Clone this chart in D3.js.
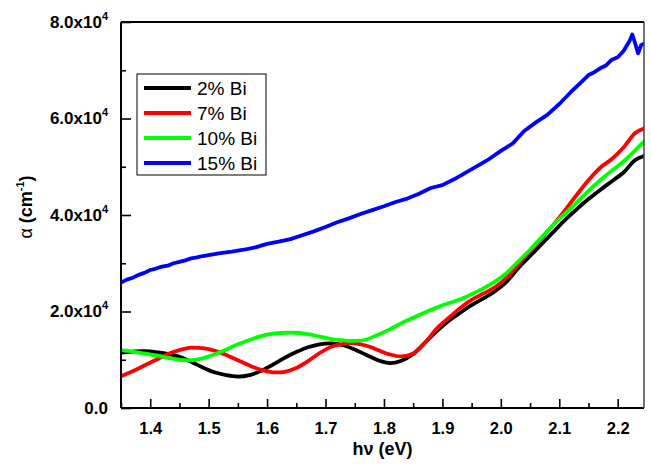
<!DOCTYPE html>
<html>
<head>
<meta charset="utf-8">
<script src="https://cdn.jsdelivr.net/npm/d3@7"></script>
<style>
  body { margin: 0; background: #fff; }
  svg text { font-family: Arial, "Liberation Sans", sans-serif; }
</style>
</head>
<body>
<svg id="chart" width="651" height="466"></svg>
<script>
// photon energy (eV) and absorption coefficient (x1e4 cm^-1)
const energyBlue = [1.35, 1.36, 1.37, 1.38, 1.39, 1.40, 1.41, 1.42, 1.43, 1.44, 1.45, 1.46, 1.47, 1.48, 1.49, 1.50,
  1.52, 1.54, 1.56, 1.58, 1.60, 1.62, 1.64, 1.66, 1.68, 1.70, 1.72, 1.74, 1.76, 1.78, 1.80, 1.82, 1.84, 1.86,
  1.88, 1.90, 1.92, 1.94, 1.96, 1.98, 2.00, 2.02, 2.04, 2.06, 2.08, 2.10, 2.12, 2.14, 2.15, 2.16, 2.17, 2.18,
  2.19, 2.20, 2.21, 2.22, 2.225, 2.23, 2.235, 2.24, 2.245]
const bi15 = [2.60, 2.66, 2.70, 2.76, 2.80, 2.86, 2.89, 2.93, 2.95, 3.00, 3.03, 3.06, 3.10, 3.12, 3.15, 3.17,
  3.21, 3.24, 3.28, 3.33, 3.40, 3.45, 3.50, 3.58, 3.66, 3.75, 3.85, 3.93, 4.02, 4.10, 4.18, 4.27, 4.34, 4.44,
  4.56, 4.62, 4.74, 4.88, 5.02, 5.16, 5.33, 5.48, 5.74, 5.92, 6.08, 6.30, 6.55, 6.78, 6.90, 6.96, 7.04, 7.10,
  7.22, 7.27, 7.40, 7.60, 7.74, 7.55, 7.35, 7.52, 7.55]

const energy = [1.35, 1.37, 1.39, 1.41, 1.43, 1.45, 1.47, 1.49, 1.51, 1.53, 1.55, 1.57, 1.59, 1.61, 1.63, 1.65,
  1.67, 1.69, 1.71, 1.73, 1.75, 1.77, 1.79, 1.81, 1.83, 1.85, 1.87, 1.89, 1.91, 1.93, 1.95, 1.97, 1.99, 2.01,
  2.03, 2.05, 2.07, 2.09, 2.11, 2.13, 2.15, 2.17, 2.19, 2.21, 2.23, 2.245]
const bi2 = [1.15, 1.17, 1.18, 1.16, 1.12, 1.06, 0.96, 0.84, 0.74, 0.68, 0.65, 0.68, 0.77, 0.90, 1.04, 1.16,
  1.26, 1.32, 1.34, 1.30, 1.21, 1.10, 0.99, 0.93, 0.98, 1.12, 1.35, 1.59, 1.80, 1.97, 2.13, 2.27, 2.42, 2.62,
  2.90, 3.15, 3.40, 3.65, 3.90, 4.12, 4.33, 4.52, 4.70, 4.88, 5.14, 5.22]
const bi7 = [0.66, 0.76, 0.88, 1.00, 1.12, 1.20, 1.25, 1.24, 1.19, 1.10, 0.99, 0.88, 0.79, 0.74, 0.75, 0.83,
  0.97, 1.14, 1.27, 1.33, 1.34, 1.29, 1.20, 1.11, 1.07, 1.13, 1.35, 1.64, 1.86, 2.07, 2.24, 2.37, 2.50, 2.70,
  2.98, 3.25, 3.52, 3.80, 4.10, 4.42, 4.72, 4.98, 5.16, 5.40, 5.70, 5.79]
const bi10 = [1.20, 1.17, 1.13, 1.09, 1.04, 1.00, 0.99, 1.03, 1.11, 1.21, 1.32, 1.41, 1.49, 1.54, 1.56, 1.56,
  1.53, 1.48, 1.43, 1.40, 1.39, 1.42, 1.52, 1.63, 1.76, 1.87, 1.98, 2.08, 2.17, 2.25, 2.36, 2.48, 2.62, 2.80,
  3.04, 3.28, 3.54, 3.80, 4.03, 4.26, 4.50, 4.72, 4.92, 5.11, 5.34, 5.52]

const seriesNames = ['2% Bi', '7% Bi', '10% Bi', '15% Bi']
const seriesColors = ['#000000', '#ff0000', '#00ff00', '#0000ff']
const xTicks = [1.4, 1.5, 1.6, 1.7, 1.8, 1.9, 2.0, 2.1, 2.2]
const xMinorTicks = [1.35, 1.45, 1.55, 1.65, 1.75, 1.85, 1.95, 2.05, 2.15]
const yTicks = [0, 2, 4, 6, 8]
const yMinorTicks = [1, 3, 5, 7]

const svg = d3.select('#chart')
const margin = { left: 121, top: 22, right: 7, bottom: 58 }
const width = 651 - margin.left - margin.right
const height = 466 - margin.top - margin.bottom

const x = d3.scaleLinear().domain([1.35, 2.245]).range([0, width])
const y = d3.scaleLinear().domain([0, 8]).range([height, 0])

const g = svg.append('g').attr('transform', `translate(${margin.left},${margin.top})`)

g.append('clipPath').attr('id', 'plot-clip')
  .append('rect').attr('width', width).attr('height', height)

// curves, blue drawn first so the others sit on top
const series = [
  { name: seriesNames[3], color: seriesColors[3], xs: energyBlue, ys: bi15, curve: d3.curveLinear },
  { name: seriesNames[0], color: seriesColors[0], xs: energy, ys: bi2, curve: d3.curveCatmullRom },
  { name: seriesNames[1], color: seriesColors[1], xs: energy, ys: bi7, curve: d3.curveCatmullRom },
  { name: seriesNames[2], color: seriesColors[2], xs: energy, ys: bi10, curve: d3.curveCatmullRom }
]

const lines = g.append('g').attr('clip-path', 'url(#plot-clip)')
series.forEach(function (s) {
  const line = d3.line()
    .x(function (d, i) { return x(s.xs[i]) })
    .y(function (d) { return y(d) })
    .curve(s.curve)
  lines.append('path')
    .attr('d', line(s.ys))
    .attr('fill', 'none')
    .attr('stroke', s.color)
    .attr('stroke-width', 3.8)
    .attr('stroke-linejoin', 'round')
    .attr('stroke-linecap', 'round')
})

// axes, ticks pointing inward
const xAxis = g.append('g')
  .attr('transform', `translate(0,${height})`)
  .call(d3.axisBottom(x).tickValues(xTicks).tickSize(-9).tickPadding(14).tickFormat(d3.format('.1f')))
g.append('g')
  .attr('transform', `translate(0,${height})`)
  .call(d3.axisBottom(x).tickValues(xMinorTicks).tickSize(-5).tickFormat(''))
  .call(function (a) { a.select('.domain').remove() })

const yAxis = g.append('g')
  .call(d3.axisLeft(y).tickValues(yTicks).tickSize(-10).tickPadding(13))
g.append('g')
  .call(d3.axisLeft(y).tickValues(yMinorTicks).tickSize(-5).tickFormat(''))
  .call(function (a) { a.select('.domain').remove() })

g.selectAll('.domain').remove()
g.selectAll('.tick line').attr('stroke', '#000').attr('stroke-width', 1.6)

xAxis.selectAll('text')
  .attr('font-size', 16.5).attr('font-weight', 'bold').attr('fill', '#000')

yAxis.selectAll('text')
  .attr('font-size', 17).attr('font-weight', 'bold').attr('fill', '#000')
  .each(function (d) {
    const t = d3.select(this)
    t.text('')
    if (d === 0) { t.text('0.0'); return }
    t.append('tspan').text(d.toFixed(1) + 'x10')
    t.append('tspan').attr('font-size', 11).attr('dy', '-0.75em').text('4')
  })

// frame
g.append('line').attr('x1', 0).attr('x2', 0).attr('y1', 0).attr('y2', height)
  .attr('stroke', '#000').attr('stroke-width', 2)
g.append('line').attr('x1', 0).attr('x2', width).attr('y1', height).attr('y2', height)
  .attr('stroke', '#000').attr('stroke-width', 2)
g.append('line').attr('x1', 0).attr('x2', width).attr('y1', 0).attr('y2', 0)
  .attr('stroke', '#000').attr('stroke-width', 2)
g.append('line').attr('x1', width).attr('x2', width).attr('y1', 0).attr('y2', height)
  .attr('stroke', '#444').attr('stroke-width', 1.5)

// axis titles
g.append('text')
  .attr('x', width / 2).attr('y', height + 47)
  .attr('text-anchor', 'middle')
  .attr('font-size', 18).attr('font-weight', 'bold')
  .text('hν (eV)')

const yTitle = g.append('text')
  .attr('transform', `translate(${-89},${height / 2 - 8}) rotate(-90)`)
  .attr('text-anchor', 'middle')
  .attr('font-size', 18).attr('font-weight', 'bold')
yTitle.append('tspan').attr('font-weight', 'normal').text('α ')
yTitle.append('tspan').text('(cm')
yTitle.append('tspan').attr('font-size', 11).attr('dy', '-0.7em').text('-1')
yTitle.append('tspan').attr('dy', '0.45em').text(')')

// legend
const legend = g.append('g').attr('transform', 'translate(16,52)')
legend.append('rect')
  .attr('width', 129).attr('height', 101)
  .attr('fill', '#fff').attr('stroke', '#000').attr('stroke-width', 1)
seriesNames.forEach(function (name, i) {
  const row = legend.append('g').attr('transform', `translate(0,${14 + i * 25})`)
  row.append('line')
    .attr('x1', 7).attr('x2', 54).attr('y1', 0).attr('y2', 0)
    .attr('stroke', seriesColors[i]).attr('stroke-width', 4)
  row.append('text')
    .attr('x', 60).attr('y', 0).attr('dy', '0.35em')
    .attr('font-size', 19)
    .text(name)
})
</script>
</body>
</html>
